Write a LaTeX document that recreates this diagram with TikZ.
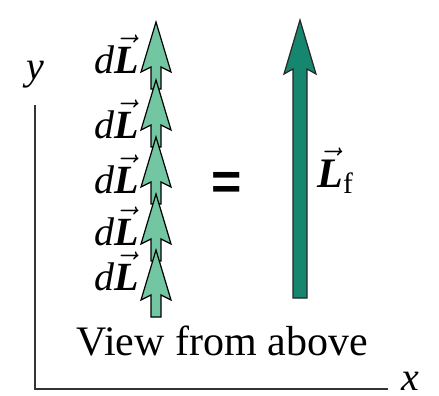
\documentclass[tikz,border=0pt]{standalone}
\usepackage{amsmath}
\usepackage{fontspec}
\setmainfont{Liberation Serif}
\newfontfamily\eqfont{Liberation Sans}
\definecolor{dlgreen}{HTML}{72C6A2}
\definecolor{lfgreen}{HTML}{17866F}
\newcommand{\vecL}{\vec{\mbox{\bfseries\itshape L}}}
\begin{document}
\begin{tikzpicture}[x=0.5pt, y=-0.5pt,
    axisline/.style={line width=1pt, draw=black!80},
    smallarrow/.style={fill=dlgreen, draw=black, line width=0.6pt},
    bigarrow/.style={fill=lfgreen, draw=black!85, line width=0.6pt},
    lbl/.style={font=\fontsize{20}{22}\selectfont, inner sep=0pt}]
    \useasboundingbox (0,0) rectangle (439,396);

    % 1. 坐标轴
    \coordinate (O) at (35,389);
    \coordinate (ytop) at (35,105);
    \coordinate (xend) at (388,389);
    \draw[axisline] (ytop) -- (O) -- (xend);
    \node[lbl] (ylab) at (35,75) {\textit{y}};
    \node[lbl] (xlab) at (410,381) {\textit{x}};

    % 2. 五个小箭头 dL，首尾相接
    \foreach \t/\by [count=\i] in {22/73, 80/138, 137/193, 194/245, 250/290} {
        \draw[smallarrow] (156,\t) -- (171,\t+50) -- (161,\t+45) -- (161,\t+67)
              -- (151,\t+67) -- (151,\t+45) -- (141,\t+50) -- cycle;
        \node[lbl, anchor=base east] (dl\i) at (139,\by) {\textit{d}$\vecL$};
    }

    % 3. 等号
    \node[font=\fontsize{26}{28}\selectfont\eqfont\bfseries, inner sep=0pt] (eq) at (227,186) {=};

    % 4. 合成的大箭头 L_f
    \draw[bigarrow] (300,20) -- (316,74) -- (307,69) -- (307,298)
          -- (293,298) -- (293,69) -- (284,74) -- cycle;
    \node[font=\fontsize{21}{24}\selectfont, inner sep=0pt, anchor=base west] (lf) at (317,187) {$\vecL_{\text{f}}$};

    % 5. 标题
    \node[font=\fontsize{21}{24}\selectfont, inner sep=0pt] (title) at (222,341) {View from above};

\end{tikzpicture}
\end{document}
